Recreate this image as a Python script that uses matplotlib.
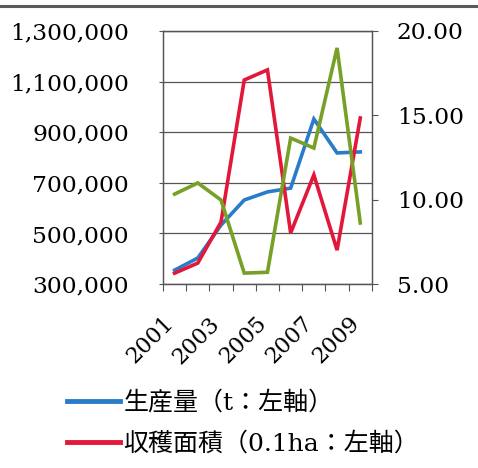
import matplotlib
matplotlib.use("Agg")
import matplotlib.pyplot as plt
from matplotlib.lines import Line2D
from matplotlib.ticker import FuncFormatter

# Annual figures, 2001-2009
years = [2001, 2002, 2003, 2004, 2005, 2006, 2007, 2008, 2009]
production_t = [355000, 403000, 533000, 632000, 664000, 679000, 952000, 818000, 822000]
harvest_area_01ha = [343000, 383000, 545000, 1106000, 1146000, 502000, 731000, 434000, 956000]
right_series = [10.33, 10.99, 9.98, 5.65, 5.70, 13.65, 13.06, 18.99, 8.62]

left_ticks = [300000, 500000, 700000, 900000, 1100000, 1300000]
right_ticks = [5, 10, 15, 20]
year_labels = ["2001", "2003", "2005", "2007", "2009"]
legend_labels = ["生産量（t：左軸）", "収穫面積（0.1ha：左軸）"]

BLUE = "#2B7BCB"
RED = "#E2173A"
GREEN = "#77A027"
GRID = "#555555"

serif = ["DejaVu Serif"]
mixed = ["DejaVu Serif", "Noto Sans CJK JP"]

fig = plt.figure(figsize=(4.78, 4.68), dpi=100)
fig.patch.set_facecolor("white")
ax = fig.add_axes([0.341, 0.393, 0.437, 0.541])
ax2 = ax.twinx()

x = list(range(len(years)))
ax.plot(x, production_t, color=BLUE, lw=2.6, solid_joinstyle="miter")
ax.plot(x, harvest_area_01ha, color=RED, lw=2.6, solid_joinstyle="miter")
ax2.plot(x, right_series, color=GREEN, lw=2.6, solid_joinstyle="miter")

ax.set_xlim(-0.5, len(years) - 0.5)
ax.set_ylim(left_ticks[0], left_ticks[-1])
ax2.set_ylim(right_ticks[0], right_ticks[-1])

# Left axis
ax.set_yticks(left_ticks)
ax.yaxis.set_major_formatter(FuncFormatter(lambda v, p: f"{int(v):,}"))
ax.yaxis.grid(True, color=GRID, lw=0.9)
ax.set_axisbelow(True)
ax.tick_params(axis="y", length=3, width=0.8, color=GRID, pad=21.5, labelsize=16.8)
for lab in ax.get_yticklabels():
    lab.set_family(serif)

# Right axis
ax2.set_yticks(right_ticks)
ax2.yaxis.set_major_formatter(FuncFormatter(lambda v, p: f"{v:.2f}"))
ax2.tick_params(axis="y", length=4, width=0.8, color=GRID, pad=14, labelsize=16.8)
for lab in ax2.get_yticklabels():
    lab.set_family(serif)

# Category axis: boundary ticks, labels every other year
bounds = [i - 0.5 for i in range(len(years) + 1)]
ax.set_xticks(bounds)
ax.set_xticklabels([""] * len(bounds))
ax.tick_params(axis="x", which="major", length=5, width=0.8, color=GRID)
label_pos = [years.index(int(y)) for y in year_labels]
ax.set_xticks(label_pos, minor=True)
ax.set_xticklabels(year_labels, minor=True, rotation=45, ha="right", va="baseline",
                   rotation_mode="anchor", fontsize=16, family=serif)
ax.tick_params(axis="x", which="minor", length=0, pad=29)

for a in (ax, ax2):
    for s in a.spines.values():
        s.set_color(GRID)
        s.set_linewidth(0.9)

# Frame line across the top
fig.add_artist(Line2D([0, 1], [1 - 6 / 468, 1 - 6 / 468], transform=fig.transFigure,
                      color="#5a5a5a", lw=2.2))

leg = fig.legend([Line2D([], [], color=BLUE, lw=3.5), Line2D([], [], color=RED, lw=3.5)],
                 legend_labels, loc="upper left", bbox_to_anchor=(67 / 478, 1 - 391 / 468),
                 frameon=False, handlelength=2.1, handletextpad=0.15, borderpad=0,
                 borderaxespad=0, labelspacing=0.68, prop={"family": mixed, "size": 18})

fig.savefig("out.png", dpi=100, facecolor="white")
